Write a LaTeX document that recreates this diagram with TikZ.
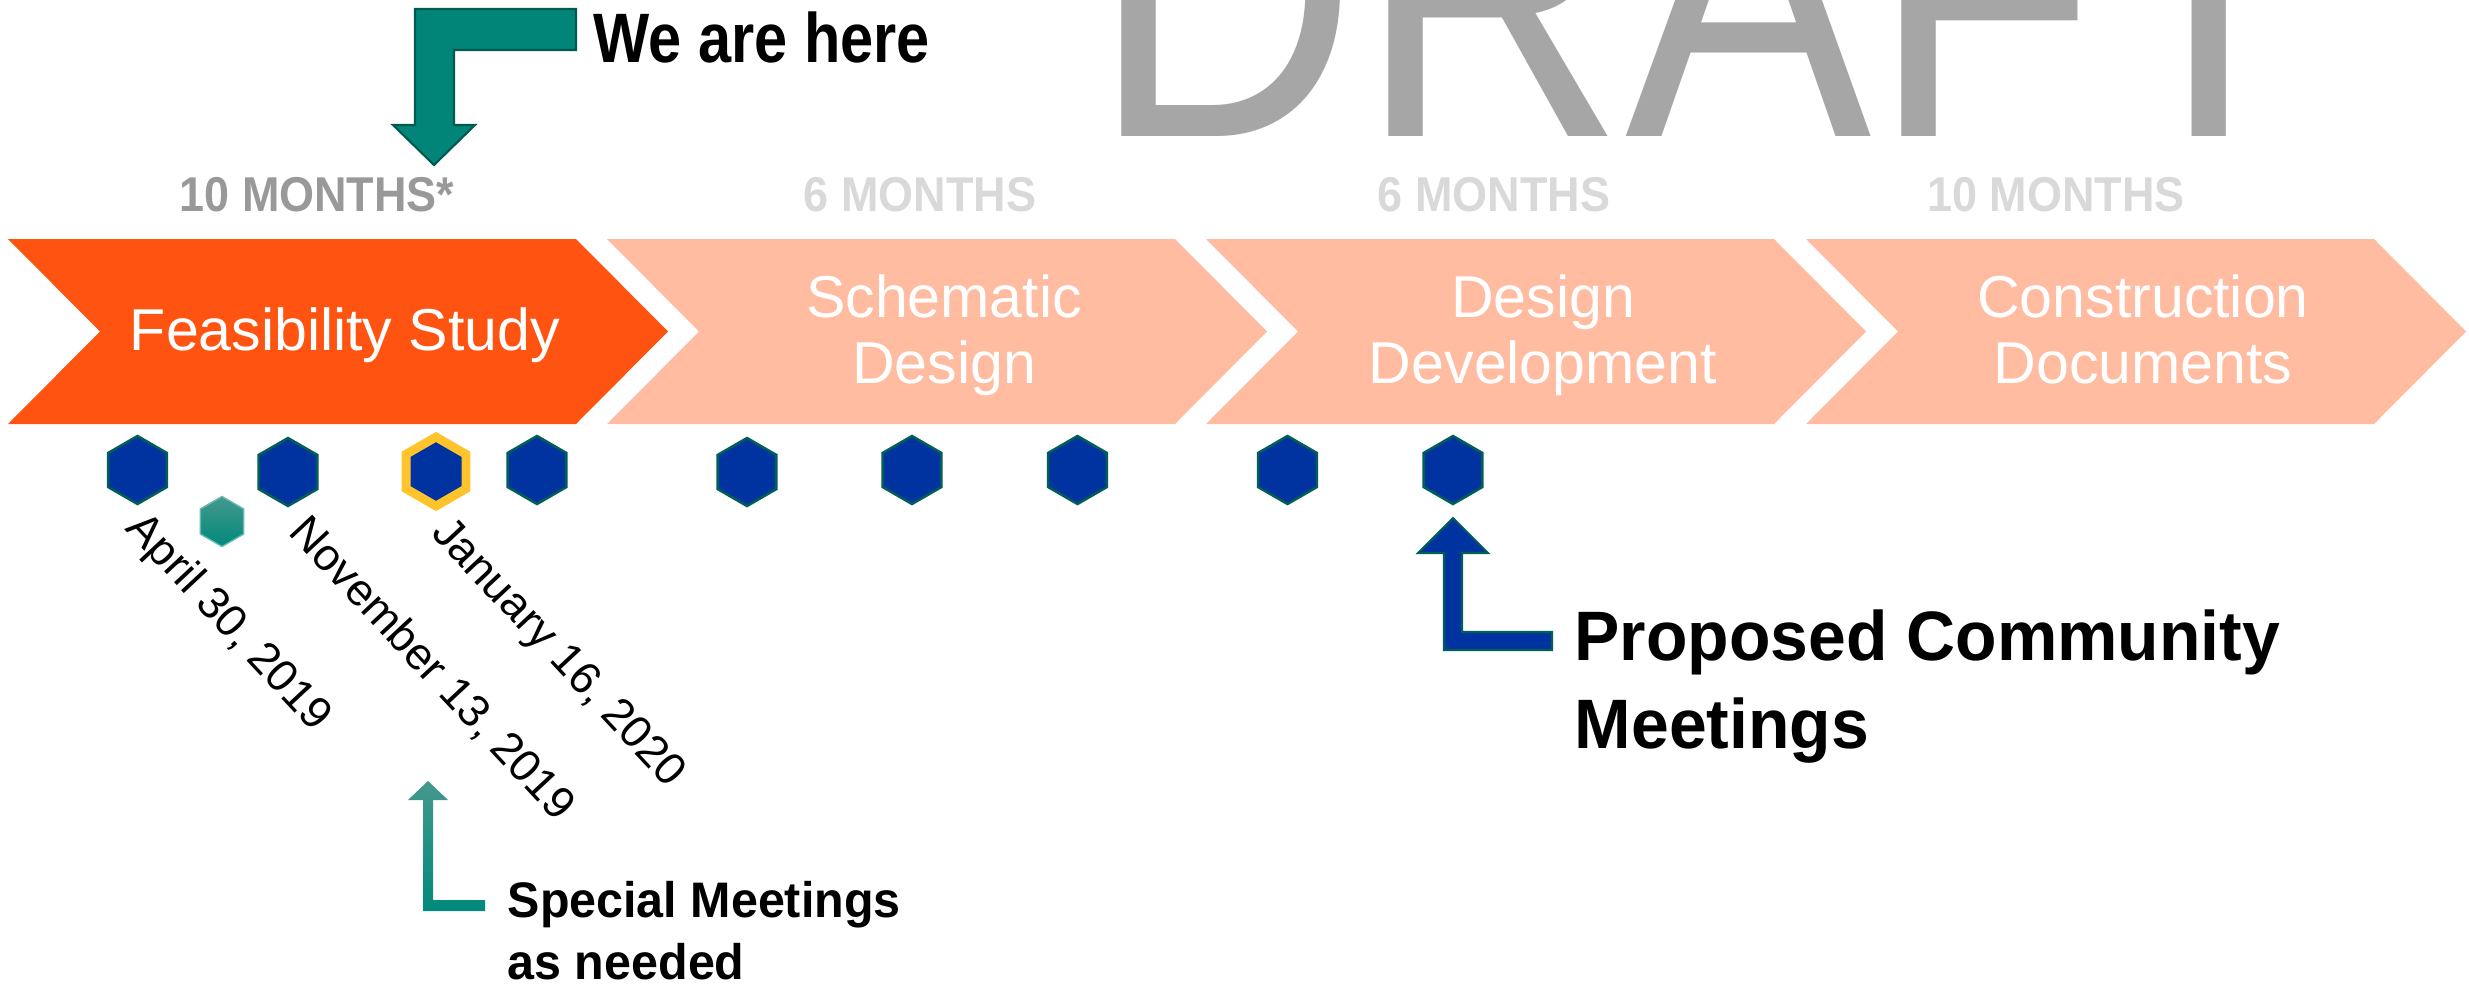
\documentclass[tikz,border=0pt]{standalone}
\usepackage{fontspec}
\setmainfont{Liberation Sans}
\newfontfamily\herefont[FakeStretch=0.85]{Liberation Sans}
\newfontfamily\monthfont[FakeStretch=0.92]{Liberation Sans}
\newfontfamily\calloutfont[FakeStretch=0.97]{Liberation Sans}
\newfontfamily\draftfont[FakeStretch=0.89,Kerning=Off]{Liberation Sans}
\usetikzlibrary{shapes.geometric}
\definecolor{phaseon}{HTML}{FF5411}
\definecolor{phaseoff}{HTML}{FFBCA1}
\definecolor{mtgblue}{HTML}{0033A0}
\definecolor{mtgedge}{HTML}{006056}
\definecolor{herearrow}{HTML}{008578}
\definecolor{hereedge}{HTML}{005A50}
\definecolor{specialtop}{HTML}{45988E}
\definecolor{special}{HTML}{00897B}
\definecolor{nowgold}{HTML}{FFC32B}
\definecolor{draftgray}{HTML}{A6A6A6}
\definecolor{monthdark}{HTML}{999999}
\definecolor{monthlight}{HTML}{D9D9D9}
\tikzset{
  phase/.style={text=white, align=center, anchor=base, inner sep=0pt,
    font=\fontsize{16.8}{18.5}\selectfont},
  months/.style={anchor=base, inner sep=0pt,
    font=\fontsize{13.9}{15}\selectfont\monthfont\bfseries},
  meeting/.style={regular polygon, regular polygon sides=6,
    regular polygon rotate=30, minimum size=0.68cm, inner sep=0pt,
    fill=mtgblue, draw=mtgedge, line width=0.7pt},
  special/.style={regular polygon, regular polygon sides=6,
    regular polygon rotate=30, minimum size=0.5cm, inner sep=0pt,
    top color=specialtop, bottom color=special, draw=special!60, line width=0.4pt},
  date/.style={rotate=-47, anchor=base west, inner sep=0pt,
    font=\fontsize{12.8}{14}\selectfont},
  callout/.style={anchor=base west, align=left, inner sep=0pt}
}
\begin{document}
\begin{tikzpicture}[x=0.01cm, y=-0.01cm]
\useasboundingbox (0,0) rectangle (2469,987);
\begin{scope}
\clip (0,0) rectangle (2469,987);
\node[anchor=base west, inner sep=0pt, text=draftgray,
  font=\fontsize{118}{120}\selectfont\draftfont] (draft) at (1091,136) {DRAFT};
\end{scope}

\foreach \x/\c in {8/phaseon, 607/phaseoff, 1206/phaseoff, 1806/phaseoff}
  \fill[\c] (\x,239) -- ++(568,0) -- ++(92,92.5) -- ++(-92,92.5)
    -- ++(-568,0) -- ++(92,-92.5) -- cycle;

\node[phase] (feas) at (345,350) {Feasibility Study};
\node[phase] (sd) at (944,383) {Schematic\\Design};
\node[phase] (dd) at (1543,383) {Design\\Development};
\node[phase] (cd) at (2143,383) {Construction\\Documents};

\node[months, text=monthdark] (m1) at (317,211) {10 MONTHS*};
\node[months, text=monthlight] (m2) at (920,211) {6 MONTHS};
\node[months, text=monthlight] (m3) at (1494,211) {6 MONTHS};
\node[months, text=monthlight] (m4) at (2056,211) {10 MONTHS};

\fill[herearrow, draw=hereedge, line width=0.6pt] (576,9) -- (415,9) -- (415,125)
  -- (393,125) -- (434,165) -- (475,125) -- (454,125) -- (454,50) -- (576,50) -- cycle;
\node[callout, font=\fontsize{19.9}{24}\selectfont\herefont\bfseries] (here) at (593,62) {We are here};

\foreach \x/\y [count=\i] in {137.5/470, 288/472, 537/470, 747/472, 912/470,
    1077.5/470, 1287.5/470, 1453/470}
  \node[meeting] (mtg\i) at (\x,\y) {};
\node[meeting, draw=nowgold, line width=2.5pt, minimum size=0.69cm] (now) at (436,471.5) {};
\node[special] (spc) at (222,521.5) {};

\node[date] (apr) at (124,529) {April 30, 2019};
\node[date] (nov) at (287,533) {November 13, 2019};
\node[date] (jan) at (430,534) {January 16, 2020};

\shade[top color=specialtop, bottom color=special] (428,781) -- (448,800) -- (433,800)
  -- (433,900) -- (485,900) -- (485,911) -- (423,911) -- (423,800) -- (408,800) -- cycle;
\node[callout, font=\fontsize{14.2}{17.6}\selectfont\calloutfont\bfseries] (spcnote) at (507,979)
  {Special Meetings\\as needed};

\fill[mtgblue, draw=mtgedge, line width=0.6pt] (1453,518) -- (1488,553) -- (1462,553)
  -- (1462,632) -- (1552,632) -- (1552,650) -- (1444,650) -- (1444,553) -- (1418,553) -- cycle;
\node[callout, font=\fontsize{19.9}{25}\selectfont\calloutfont\bfseries] (mtgnote) at (1574,748)
  {Proposed Community\\Meetings};
\end{tikzpicture}
\end{document}
